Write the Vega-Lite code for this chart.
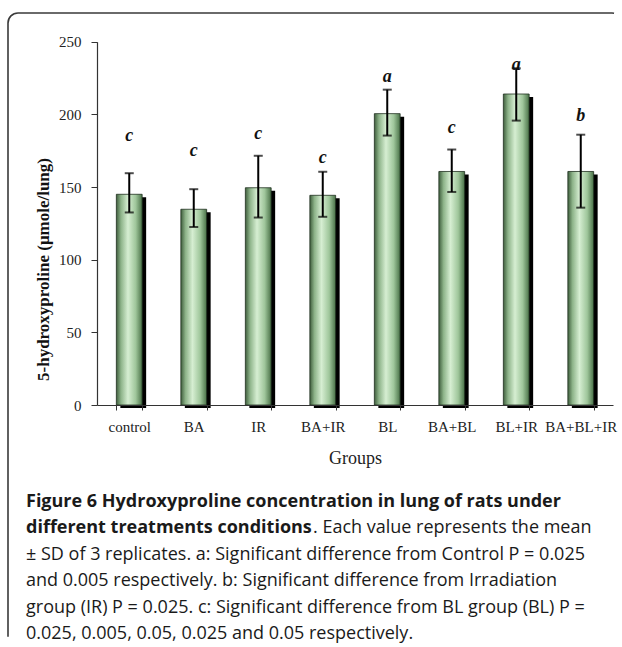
{
  "$schema": "https://vega.github.io/schema/vega-lite/v6.json",
  "autosize": {"type": "none"},
  "padding": {"left": 8, "top": 13, "right": 0, "bottom": 0},
  "width": 614,
  "height": 634,
  "background": "white",
  "config": {
    "view": {
      "stroke": "#3a3a3a",
      "strokeWidth": 1.6,
      "cornerRadius": 10,
      "fill": "white",
      "strokeDash": [596, 1253, 640, 10]
    }
  },
  "datasets": {
    "bars": [
      {"group": "control", "mean": 145, "lo": 132.5, "hi": 159.5, "letter": "c", "letter_at": 185},
      {"group": "BA", "mean": 134.7, "lo": 122.5, "hi": 148.5, "letter": "c", "letter_at": 175},
      {"group": "IR", "mean": 149.5, "lo": 129, "hi": 171.5, "letter": "c", "letter_at": 186.5},
      {"group": "BA+IR", "mean": 144.3, "lo": 129.5, "hi": 160.5, "letter": "c", "letter_at": 170},
      {"group": "BL", "mean": 200.5, "lo": 185.4, "hi": 217, "letter": "a", "letter_at": 226},
      {"group": "BA+BL", "mean": 160.7, "lo": 146.6, "hi": 175.8, "letter": "c", "letter_at": 190.6},
      {"group": "BL+IR", "mean": 214, "lo": 195.7, "hi": 231.7, "letter": "a", "letter_at": 234},
      {"group": "BA+BL+IR", "mean": 160.7, "lo": 135.8, "hi": 186, "letter": "b", "letter_at": 199}
    ],
    "caption_bold": [
      {"line": 1, "text": "Figure 6 Hydroxyproline concentration in lung of rats under"},
      {"line": 2, "text": "different treatments conditions"}
    ],
    "caption_tail": [
      {"line": 2, "text": ". Each value represents the mean"}
    ],
    "caption_plain": [
      {"line": 3, "text": "± SD of 3 replicates. a: Significant difference from Control P = 0.025"},
      {"line": 4, "text": "and 0.005 respectively. b: Significant difference from Irradiation"},
      {"line": 5, "text": "group (IR) P = 0.025. c: Significant difference from BL group (BL) P ="},
      {"line": 6, "text": "0.025, 0.005, 0.05, 0.025 and 0.05 respectively."}
    ]
  },
  "layer": [
    {
      "data": {"name": "bars"},
      "encoding": {
        "x": {
          "field": "group",
          "type": "nominal",
          "sort": null,
          "scale": {"range": [89, 605], "paddingInner": 0.6, "paddingOuter": 0.3},
          "axis": {
            "orient": "bottom",
            "offset": -242,
            "zindex": 1,
            "title": "Groups",
            "titleFont": "Liberation Serif",
            "titleFontSize": 18,
            "titleFontWeight": "normal",
            "titleColor": "#222",
            "titlePadding": 15,
            "labelFont": "Liberation Serif",
            "labelFontSize": 15,
            "labelColor": "#222",
            "labelAngle": 0,
            "labelPadding": 9,
            "tickBand": "extent",
            "tickSize": 5,
            "tickColor": "#333",
            "domainColor": "#333",
            "domainWidth": 1.2,
            "grid": false
          }
        }
      },
      "layer": [
        {
          "mark": {"type": "bar", "color": "#000000", "xOffset": 4, "yOffset": 3, "y2Offset": 0},
          "encoding": {
            "y": {
              "field": "mean",
              "type": "quantitative",
              "scale": {"domain": [0, 250], "range": [392, 28.7], "nice": false},
              "axis": {
                "orient": "left",
                "offset": -89,
                "zindex": 1,
                "values": [0, 50, 100, 150, 200, 250],
                "title": "5-hydroxyproline (μmole/lung)",
                "titleFont": "Liberation Serif",
                "titleFontSize": 17,
                "titleFontWeight": "bold",
                "titleColor": "#111",
                "titlePadding": 6,
                "titleY": 256,
                "labelFont": "Liberation Serif",
                "labelFontSize": 15,
                "labelColor": "#222",
                "labelPadding": 10,
                "tickSize": 6,
                "tickColor": "#333",
                "domainColor": "#333",
                "domainWidth": 1.2,
                "grid": false
              }
            }
          }
        },
        {
          "mark": {
            "type": "bar",
            "stroke": "#1f301f",
            "strokeWidth": 0.8,
            "color": {
              "gradient": "linear",
              "x1": 0, "y1": 0, "x2": 1, "y2": 0,
              "stops": [
                {"offset": 0, "color": "#3f5e3d"},
                {"offset": 0.18, "color": "#8db389"},
                {"offset": 0.45, "color": "#d6eed2"},
                {"offset": 0.75, "color": "#9fc69b"},
                {"offset": 1, "color": "#4a7248"}
              ]
            }
          },
          "encoding": {"y": {"field": "mean", "type": "quantitative"}}
        },
        {
          "mark": {"type": "rule", "color": "#000000", "strokeWidth": 2},
          "encoding": {
            "y": {"field": "lo", "type": "quantitative"},
            "y2": {"field": "hi"}
          }
        },
        {
          "mark": {"type": "tick", "color": "#000000", "size": 9, "thickness": 2},
          "encoding": {"y": {"field": "hi", "type": "quantitative"}}
        },
        {
          "mark": {"type": "tick", "color": "#000000", "size": 9, "thickness": 2},
          "encoding": {"y": {"field": "lo", "type": "quantitative"}}
        },
        {
          "mark": {
            "type": "text",
            "font": "Liberation Serif",
            "fontSize": 18,
            "fontWeight": "bold",
            "fontStyle": "italic",
            "color": "#111",
            "baseline": "middle"
          },
          "encoding": {
            "y": {"field": "letter_at", "type": "quantitative"},
            "text": {"field": "letter"}
          }
        }
      ]
    },
    {
      "encoding": {
        "x": {
          "datum": 0,
          "type": "quantitative",
          "scale": {"domain": [0, 1], "range": [18, 600]},
          "axis": null
        }
      },
      "layer": [
        {
          "data": {"name": "caption_bold"},
          "mark": {
            "type": "text",
            "font": "Open Sans",
            "fontSize": 18,
            "fontWeight": "bold",
            "align": "left",
            "baseline": "alphabetic",
            "color": "#1a1a1a"
          },
          "encoding": {
            "y": {
              "field": "line",
              "type": "quantitative",
              "scale": {"domain": [1, 6], "range": [493.7, 626.2]},
              "axis": null
            },
            "text": {"field": "text"}
          }
        },
        {
          "data": {"name": "caption_tail"},
          "mark": {
            "type": "text",
            "font": "Open Sans",
            "fontSize": 18,
            "align": "left",
            "baseline": "alphabetic",
            "dx": 287,
            "color": "#1a1a1a"
          },
          "encoding": {
            "y": {"field": "line", "type": "quantitative"},
            "text": {"field": "text"}
          }
        },
        {
          "data": {"name": "caption_plain"},
          "mark": {
            "type": "text",
            "font": "Open Sans",
            "fontSize": 18,
            "align": "left",
            "baseline": "alphabetic",
            "color": "#1a1a1a"
          },
          "encoding": {
            "y": {"field": "line", "type": "quantitative"},
            "text": {"field": "text"}
          }
        }
      ]
    }
  ],
  "resolve": {"scale": {"x": "independent", "y": "independent"}, "axis": {"x": "independent", "y": "independent"}}
}
